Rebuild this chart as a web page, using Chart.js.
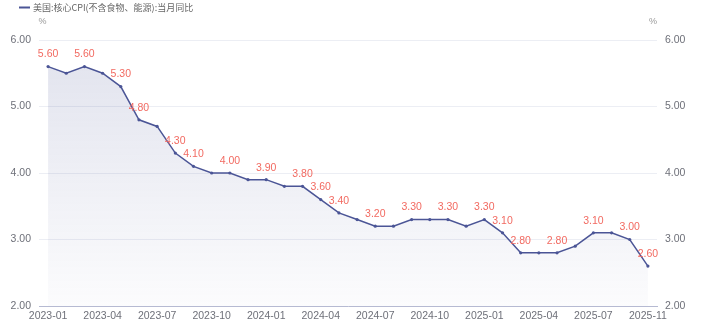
<!DOCTYPE html>
<html>
<head>
<meta charset="utf-8">
<style>
  html, body { margin: 0; padding: 0; background: #ffffff; }
  #wrap { width: 703px; height: 328px; }
</style>
<script src="https://cdn.jsdelivr.net/npm/chart.js@4/dist/chart.umd.min.js"></script>
</head>
<body>
<div id="wrap"><canvas id="cpi" width="703" height="328"></canvas></div>
<script>
// Monthly series (2025-10 was not published)
const months = [
  '2023-01','2023-02','2023-03','2023-04','2023-05','2023-06','2023-07','2023-08','2023-09','2023-10','2023-11','2023-12',
  '2024-01','2024-02','2024-03','2024-04','2024-05','2024-06','2024-07','2024-08','2024-09','2024-10','2024-11','2024-12',
  '2025-01','2025-02','2025-03','2025-04','2025-05','2025-06','2025-07','2025-08','2025-09','2025-11'
];
const coreCpiYoY = [
  5.6, 5.5, 5.6, 5.5, 5.3, 4.8, 4.7, 4.3, 4.1, 4.0, 4.0, 3.9,
  3.9, 3.8, 3.8, 3.6, 3.4, 3.3, 3.2, 3.2, 3.3, 3.3, 3.3, 3.2,
  3.3, 3.1, 2.8, 2.8, 2.8, 2.9, 3.1, 3.1, 3.0, 2.6
];
const xTickLabels = ['2023-01','2023-04','2023-07','2023-10','2024-01','2024-04',
                     '2024-07','2024-10','2025-01','2025-04','2025-07','2025-11'];
const yTicks = [2, 3, 4, 5, 6];
const seriesName = '美国:核心CPI(不含食物、能源):当月同比';
const unitLabel = '%';

const LINE = '#4b5596';
const LABEL = '#f26a61';
const TICK = '#6e7079';
const NUM_FONT = '"Liberation Sans", Arial, sans-serif';
const CJK_FONT = '"Noto Sans CJK SC", "Noto Sans", sans-serif';

// Value labels above points; a label is skipped when it would overlap one already drawn
const valueLabels = {
  id: 'valueLabels',
  afterDatasetsDraw(chart) {
    const ctx = chart.ctx;
    const meta = chart.getDatasetMeta(0);
    const values = chart.data.datasets[0].data;
    const placed = [];
    ctx.save();
    ctx.font = '10.5px ' + NUM_FONT;
    ctx.fillStyle = LABEL;
    ctx.textAlign = 'center';
    ctx.textBaseline = 'middle';
    meta.data.forEach((pt, i) => {
      const text = values[i].toFixed(2);
      const w = ctx.measureText(text).width + 2;
      const h = 12;
      const box = { x: pt.x - w / 2, y: pt.y - 12 - h / 2, w, h };
      const hit = placed.some(b =>
        box.x < b.x + b.w && b.x < box.x + box.w &&
        box.y < b.y + b.h && b.y < box.y + box.h);
      if (hit) return;
      placed.push(box);
      ctx.fillText(text, pt.x, pt.y - 12);
    });
    ctx.restore();
  }
};

// Legend entry and axis unit marks
const decorations = {
  id: 'decorations',
  afterDraw(chart) {
    const ctx = chart.ctx;
    const area = chart.chartArea;
    ctx.save();
    ctx.strokeStyle = LINE;
    ctx.lineWidth = 2;
    ctx.beginPath();
    ctx.moveTo(19, 7.5);
    ctx.lineTo(30, 7.5);
    ctx.stroke();
    ctx.font = '9px ' + CJK_FONT;
    ctx.fillStyle = '#666666';
    ctx.textAlign = 'left';
    ctx.textBaseline = 'middle';
    ctx.fillText(seriesName, 33, 7.5);

    ctx.font = '9px ' + NUM_FONT;
    ctx.fillStyle = '#999999';
    ctx.textAlign = 'center';
    ctx.fillText(unitLabel, area.left + 3.5, 22);
    ctx.fillText(unitLabel, area.right - 4, 22);
    ctx.restore();
  }
};

const ctx = document.getElementById('cpi').getContext('2d');

new Chart(ctx, {
  type: 'line',
  data: {
    labels: months,
    datasets: [{
      label: seriesName,
      data: coreCpiYoY,
      yAxisID: 'y',
      borderColor: LINE,
      borderWidth: 1.5,
      pointRadius: 1.6,
      pointBackgroundColor: LINE,
      pointBorderColor: LINE,
      pointBorderWidth: 0,
      tension: 0,
      fill: 'start',
      backgroundColor(c) {
        const a = c.chart.chartArea;
        if (!a) return 'rgba(75,85,150,0.1)';
        const g = c.chart.ctx.createLinearGradient(0, a.top, 0, a.bottom);
        g.addColorStop(0, 'rgba(75,85,150,0.17)');
        g.addColorStop(1, 'rgba(75,85,150,0.02)');
        return g;
      }
    }]
  },
  options: {
    responsive: false,
    animation: false,
    devicePixelRatio: 1,
    layout: { padding: { top: 40, left: 0, right: 0, bottom: 0 } },
    plugins: {
      legend: { display: false },
      tooltip: { enabled: false }
    },
    scales: {
      x: {
        type: 'category',
        offset: true,
        grid: { display: false, drawTicks: false },
        border: { display: true, color: '#b6bad2', width: 1 },
        ticks: {
          autoSkip: false,
          maxRotation: 0,
          padding: 4,
          color: TICK,
          font: { size: 10.5, family: NUM_FONT },
          callback(v, i) {
            const m = months[i];
            return xTickLabels.includes(m) ? m : '';
          }
        },
        afterFit(s) { s.height = 22; }
      },
      y: {
        position: 'left',
        min: 2, max: 6,
        afterBuildTicks(s) { s.ticks = yTicks.map(v => ({ value: v })); },
        grid: { color: '#eceef4', drawTicks: false },
        border: { display: false },
        ticks: {
          padding: 8,
          color: TICK,
          font: { size: 10.5, family: NUM_FONT },
          callback: v => Number(v).toFixed(2)
        },
        afterFit(s) { s.width = 39; }
      },
      y2: {
        position: 'right',
        min: 2, max: 6,
        afterBuildTicks(s) { s.ticks = yTicks.map(v => ({ value: v })); },
        grid: { drawOnChartArea: false, drawTicks: false },
        border: { display: false },
        ticks: {
          padding: 8,
          color: TICK,
          font: { size: 10.5, family: NUM_FONT },
          callback: v => Number(v).toFixed(2)
        },
        afterFit(s) { s.width = 46; }
      }
    }
  },
  plugins: [valueLabels, decorations]
});
</script>
</body>
</html>
